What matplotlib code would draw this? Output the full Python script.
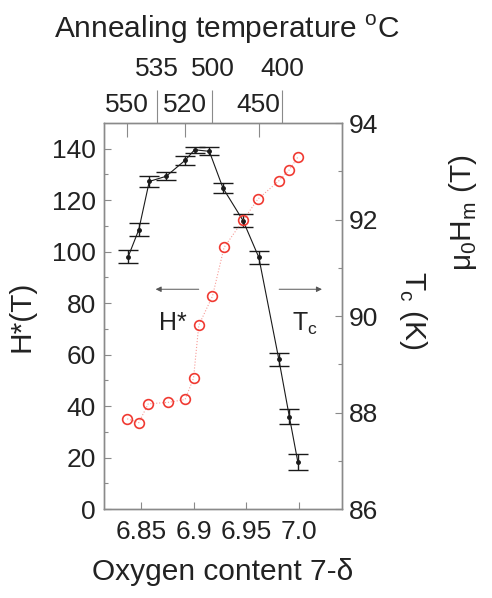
import matplotlib
matplotlib.use('Agg')
import matplotlib.pyplot as plt

plt.rcParams['font.family'] = ['Liberation Sans', 'DejaVu Sans']
plt.rcParams['mathtext.fontset'] = 'custom'
plt.rcParams['mathtext.rm'] = 'Liberation Sans'

# H* (left axis) vs oxygen content
oxy_h = [6.838, 6.848, 6.858, 6.874, 6.892, 6.901, 6.915, 6.928, 6.947, 6.962, 6.981, 6.991, 6.999]
h_star = [98.1, 108.5, 127.3, 129.3, 135.5, 139.6, 139.0, 124.7, 112.1, 97.8, 58.2, 35.9, 18.4]
h_err = [2.6, 2.6, 2.1, 1.5, 1.8, 1.2, 1.5, 2.0, 2.5, 2.5, 2.6, 2.8, 3.1]

# Tc (right axis) vs oxygen content
oxy_tc = [6.837, 6.848, 6.857, 6.876, 6.892, 6.900, 6.905, 6.918, 6.929, 6.947, 6.961, 6.981, 6.991, 6.999]
tc = [87.87, 87.79, 88.18, 88.21, 88.27, 88.71, 89.81, 90.41, 91.42, 91.98, 92.42, 92.80, 93.03, 93.29]

# annealing temperatures on top axis and their oxygen content
temps_low = ['550', '520', '450']
temps_low_pos = [6.837, 6.892, 6.962]
temps_high = ['535', '500', '400']
temps_high_pos = [6.865, 6.918, 6.984]

x_ticks = [6.85, 6.9, 6.95, 7.0]
x_ticklabels = ['6.85', '6.9', '6.95', '7.0']

text_col = '#222222'
axis_col = '#8a8a8a'
red = '#f03a32'

fig = plt.figure(figsize=(4.92, 5.98), dpi=100)
ax = fig.add_axes([0.2114, 0.1488, 0.4837, 0.6455])

ax.errorbar(oxy_h, h_star, yerr=h_err, fmt='-', color='#1a1a1a', lw=0.8,
            marker='o', ms=2.5, capsize=7, capthick=1.0, elinewidth=1.0, zorder=3)
ax.set_xlim(6.815, 7.041)
ax.set_ylim(0, 150)
ax.set_xticks(x_ticks)
ax.set_xticklabels(x_ticklabels)
ax.set_yticks(range(0, 141, 20))
ax.set_yticks(range(10, 150, 20), minor=True)
ax.tick_params(axis='both', which='both', direction='in', colors=axis_col,
               labelcolor=text_col, labelsize=19, width=0.8)
ax.tick_params(axis='both', which='major', length=5, pad=6)
ax.tick_params(axis='both', which='minor', length=3)
ax.tick_params(axis='x', pad=8)
for s in ax.spines.values():
    s.set_color(axis_col)
    s.set_linewidth(1.0)

ax.set_xlabel('Oxygen content 7-δ', fontsize=21.5, color=text_col, labelpad=10)
ax.set_ylabel('H*(T)', fontsize=21.5, color=text_col, labelpad=12)

# Tc on the right axis: faint dotted guide plus open circles
ax2 = ax.twinx()
ax2.plot(oxy_tc, tc, linestyle=':', color=red, lw=0.8, alpha=0.5, zorder=2)
ax2.plot(oxy_tc, tc, linestyle='none', marker='o', ms=7, mfc='none',
         mec=red, mew=1.2, zorder=2)
ax2.set_ylim(86, 94)
ax2.set_yticks(range(86, 95, 2))
ax2.set_yticks(range(87, 94, 2), minor=True)
ax2.tick_params(axis='y', which='both', direction='in', colors=axis_col,
                labelcolor=text_col, labelsize=19, width=0.8)
ax2.tick_params(axis='y', which='major', length=5, pad=5)
ax2.tick_params(axis='y', which='minor', length=3)
for s in ax2.spines.values():
    s.set_color(axis_col)
    s.set_linewidth(1.0)

# annealing temperature axis on top, two label rows
ax3 = ax.twiny()
ax3.set_xlim(ax.get_xlim())
ax3.set_xticks(temps_high_pos)
ax3.set_xticklabels(temps_high)
ax3.set_xticks(temps_low_pos, minor=True)
ax3.set_xticklabels(temps_low, minor=True)
ax3.tick_params(axis='x', which='major', direction='out', length=24, width=0.8,
                colors=axis_col, labelcolor=text_col, labelsize=19, pad=6)
ax3.tick_params(axis='x', which='minor', direction='in', length=10, width=0.8,
                colors=axis_col, labelcolor=text_col, labelsize=19, pad=4)
for s in ax3.spines.values():
    s.set_visible(False)
fig.text(0.462, 0.951, 'Annealing temperature $^\\mathregular{o}$C', fontsize=21.5,
         color=text_col, ha='center', va='center')

# arrows pointing at each curve's axis
ax.annotate('', xy=(6.8614, 85.4), xytext=(6.9076, 85.4),
            arrowprops=dict(arrowstyle='-|>', color='#555555', lw=0.7,
                            mutation_scale=8))
ax.annotate('', xy=(7.0246, 85.4), xytext=(6.9787, 85.4),
            arrowprops=dict(arrowstyle='-|>', color='#555555', lw=0.7,
                            mutation_scale=8))
ax.text(6.880, 72.3, 'H*', fontsize=18, color=text_col, ha='center', va='center')
ax.text(7.006, 72.0, 'T$_\\mathregular{c}$', fontsize=18, color=text_col,
        ha='center', va='center')

# right-hand labels
fig.text(0.840, 0.482, 'T$_\\mathregular{c}$ (K)', fontsize=21.5, color=text_col,
         rotation=270, ha='center', va='center')
fig.text(0.941, 0.644, 'μ$_\\mathregular{0}$H$_\\mathregular{m}$ (T)', fontsize=21.5,
         color=text_col, rotation=90, ha='center', va='center')

fig.savefig('out.png', dpi=100)
